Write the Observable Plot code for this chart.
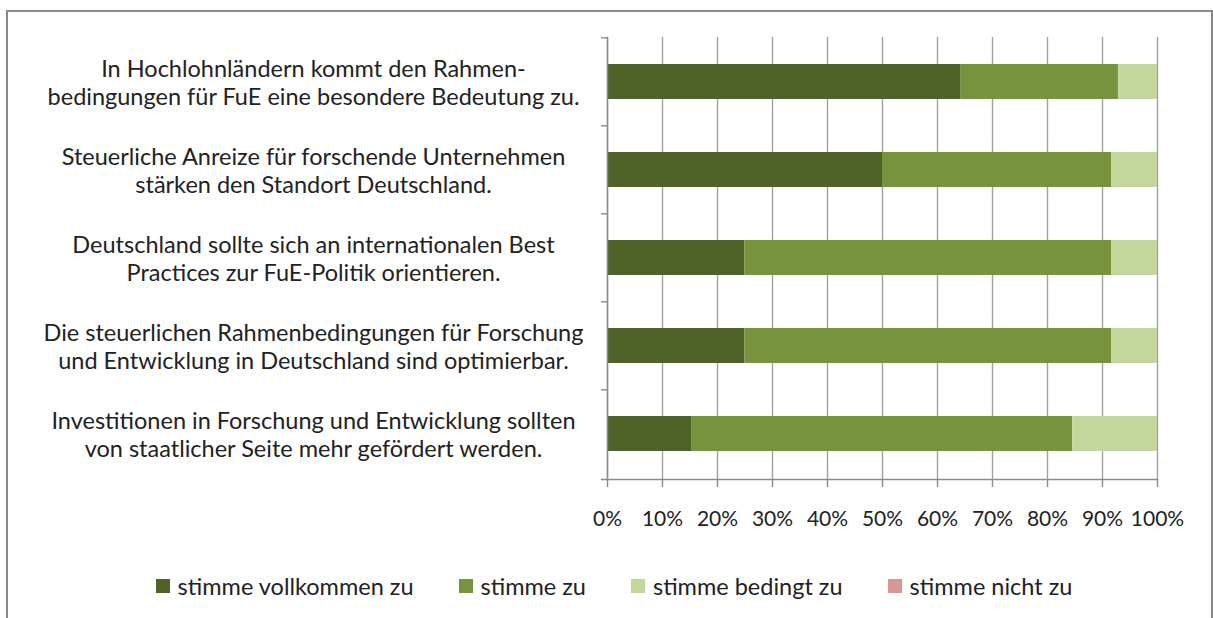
<!DOCTYPE html>
<html>
<head>
<meta charset="utf-8">
<script src="https://cdn.jsdelivr.net/npm/d3@7"></script>
<script src="https://cdn.jsdelivr.net/npm/@observablehq/plot@0.6"></script>
<style>
  html, body { margin: 0; padding: 0; background: #fff; width: 1213px; height: 618px; overflow: hidden; font-family: Lato, "Open Sans", sans-serif; }
  #frame { position: absolute; left: 6px; top: 10px; width: 1203px; height: 640px; border: 2px solid #8a8a8a; border-bottom: none; box-shadow: 1px 1px 2px #bbb; }
  #chart { position: absolute; left: 0; top: 0; }
  #legend { position: absolute; left: 0; top: 572px; width: 1228px; display: flex; justify-content: center; gap: 45px; font-size: 23.5px; color: #222; }
  .item { display: flex; align-items: center; gap: 8px; }
  .sw { width: 14px; height: 14px; display: inline-block; }
</style>
</head>
<body>
<div id="frame"></div>
<div id="chart"></div>
<div id="legend"></div>
<script>
const categories = [
  "In Hochlohnländern kommt den Rahmen-\nbedingungen für FuE eine besondere Bedeutung zu.",
  "Steuerliche Anreize für forschende Unternehmen\nstärken den Standort Deutschland.",
  "Deutschland sollte sich an internationalen Best\nPractices zur FuE-Politik orientieren.",
  "Die steuerlichen Rahmenbedingungen für Forschung\nund Entwicklung in Deutschland sind optimierbar.",
  "Investitionen in Forschung und Entwicklung sollten\nvon staatlicher Seite mehr gefördert werden."
];
const seriesNames = ["stimme vollkommen zu", "stimme zu", "stimme bedingt zu", "stimme nicht zu"];
const seriesColors = ["#4F6228", "#77933C", "#C3D69B", "#D99694"];
const vollkommen = [64.3, 50.0, 25.0, 25.0, 15.4];
const zu = [28.6, 41.7, 66.7, 66.7, 69.2];
const bedingt = [7.1, 8.3, 8.3, 8.3, 15.4];
const nicht = [0, 0, 0, 0, 0];
const xTicks = [0, 10, 20, 30, 40, 50, 60, 70, 80, 90, 100];

const seriesValues = [vollkommen, zu, bedingt, nicht];
const data = [];
categories.forEach((c, i) => {
  seriesNames.forEach((s, j) => data.push({category: c, series: s, value: seriesValues[j][i]}));
});

const W = 1213, H = 560;
const mTop = 37, mBottom = H - 479, mLeft = 607, mRight = W - 1157;
const step = (H - mTop - mBottom) / categories.length;

const plot = Plot.plot({
  width: W, height: H,
  marginTop: mTop, marginBottom: mBottom, marginLeft: mLeft, marginRight: mRight,
  style: {fontFamily: "Lato, 'Open Sans', sans-serif", color: "#222", background: "transparent"},
  x: {domain: [0, 100], label: null},
  y: {domain: categories, paddingInner: 0.6, paddingOuter: 0.3, label: null},
  color: {domain: seriesNames, range: seriesColors},
  marks: [
    Plot.gridX(xTicks, {stroke: "#a0a0a0", strokeOpacity: 1, strokeWidth: 1.4}),
    Plot.barX(data, Plot.stackX({x: "value", y: "category", fill: "series", order: seriesNames})),
    Plot.frame({anchor: "left", stroke: "#8c8c8c", strokeWidth: 1.4}),
    Plot.frame({anchor: "bottom", stroke: "#8c8c8c", strokeWidth: 1.4, insetLeft: -6}),
    Plot.axisY({ticks: categories, tickSize: 6, tickFormat: () => "", dy: -step / 2, stroke: "#8c8c8c", strokeWidth: 1.4, label: null}),
    Plot.axisX({ticks: xTicks, tickSize: 8, tickPadding: 24, tickFormat: d => d + "%", fontSize: 21, stroke: "#8c8c8c", strokeWidth: 1.4, label: null}),
    Plot.text(categories, {y: d => d, text: d => d, frameAnchor: "left", dx: 313 - mLeft, textAnchor: "middle", fontSize: 23.5, lineHeight: 1.19, fill: "#222"})
  ]
});
document.getElementById("chart").appendChild(plot);

const legend = document.getElementById("legend");
seriesNames.forEach((s, j) => {
  const item = document.createElement("div");
  item.className = "item";
  const sw = document.createElement("span");
  sw.className = "sw";
  sw.style.background = seriesColors[j];
  const t = document.createElement("span");
  t.textContent = s;
  item.appendChild(sw); item.appendChild(t);
  legend.appendChild(item);
});
</script>
</body>
</html>
